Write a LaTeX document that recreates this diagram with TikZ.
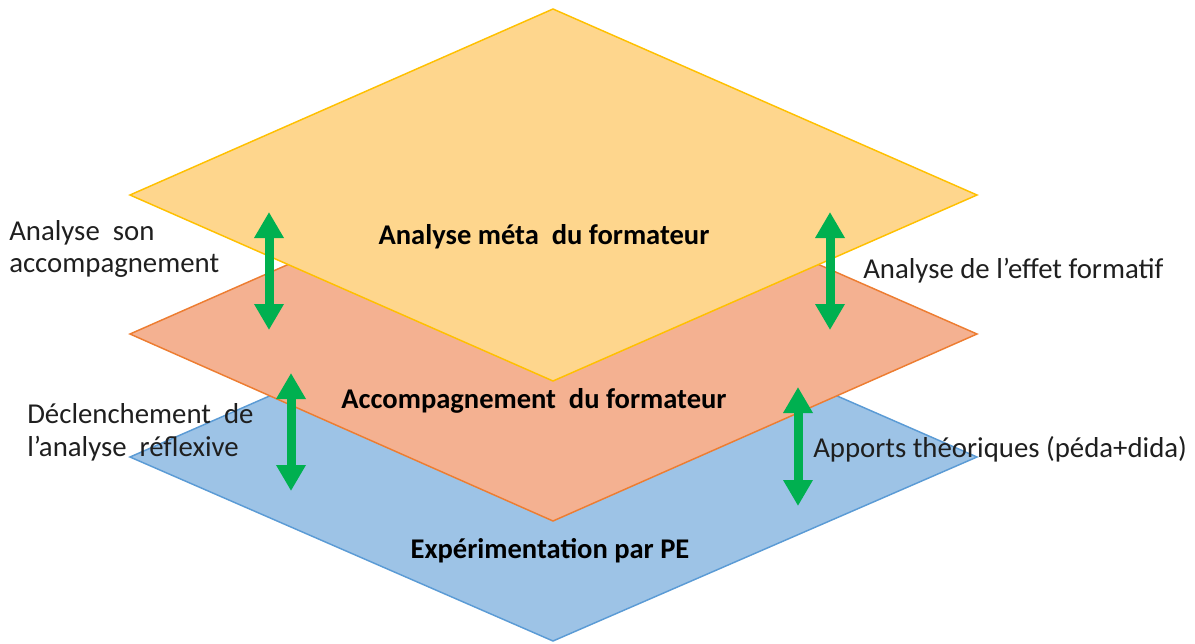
\documentclass[tikz,border=0pt]{standalone}
\usepackage{fontspec}
\setmainfont{Carlito}
\usetikzlibrary{arrows.meta}
\definecolor{yfill}{RGB}{254,214,141}
\definecolor{yline}{RGB}{255,192,0}
\definecolor{ofill}{RGB}{244,177,145}
\definecolor{oline}{RGB}{237,125,49}
\definecolor{bfill}{RGB}{157,195,230}
\definecolor{bline}{RGB}{91,155,213}
\definecolor{agreen}{RGB}{0,176,80}
\tikzset{
  layer/.style={line width=1.1pt, line join=miter},
  darrow/.style={draw=agreen, line width=6.75pt,
    {Triangle[length=19.5pt,width=21pt]}-{Triangle[length=19.5pt,width=21pt]}},
  side/.style={anchor=base west, inner sep=0pt, font=\fontsize{21.6}{26}\selectfont, text=black!88},
  title/.style={anchor=base, inner sep=0pt, font=\fontsize{21.4}{26}\selectfont\bfseries, text=black},
}
\begin{document}
\begin{tikzpicture}[x=0.75pt,y=-0.75pt]
\useasboundingbox (0,0) rectangle (1195,643);
% layers
\draw[layer, fill=bfill, draw=bline] (130,457) -- (553,272) -- (977,457) -- (553,641) -- cycle;
\draw[layer, fill=ofill, draw=oline] (130,334) -- (553,148) -- (977,334) -- (553,521) -- cycle;
\draw[layer, fill=yfill, draw=yline] (130,195) -- (553,9) -- (977,195) -- (553,381) -- cycle;
% arrow end points
\coordinate (a1t) at (269,212); \coordinate (a1b) at (269,330);
\coordinate (a2t) at (830,212); \coordinate (a2b) at (830,330);
\coordinate (a3t) at (291,373); \coordinate (a3b) at (291,491);
\coordinate (a4t) at (798,387); \coordinate (a4b) at (798,506);
\draw[darrow] (a1t) -- (a1b);
\draw[darrow] (a2t) -- (a2b);
\draw[darrow] (a3t) -- (a3b);
\draw[darrow] (a4t) -- (a4b);
% titles
\node[title] (t1) at (544,244) {Analyse méta\ \ du formateur};
\node[title] (t2) at (534,408) {Accompagnement\ \ du formateur};
\node[title] (t3) at (550,558) {Expérimentation\ par PE};
% side labels
\node[side] (l1a) at (9,240) {Analyse\ \ son};
\node[side] (l1b) at (9,272) {accompagnement};
\node[side] (r1) at (863,278) {Analyse\ de\ l’effet\ formatif};
\node[side] (l2a) at (27,423) {Déclenchement\ \ de};
\node[side] (l2b) at (27,456) {l’analyse\ \ réflexive};
\node[side] (r2) at (813,457) {Apports\ théoriques\ (péda+dida)};
\end{tikzpicture}
\end{document}
